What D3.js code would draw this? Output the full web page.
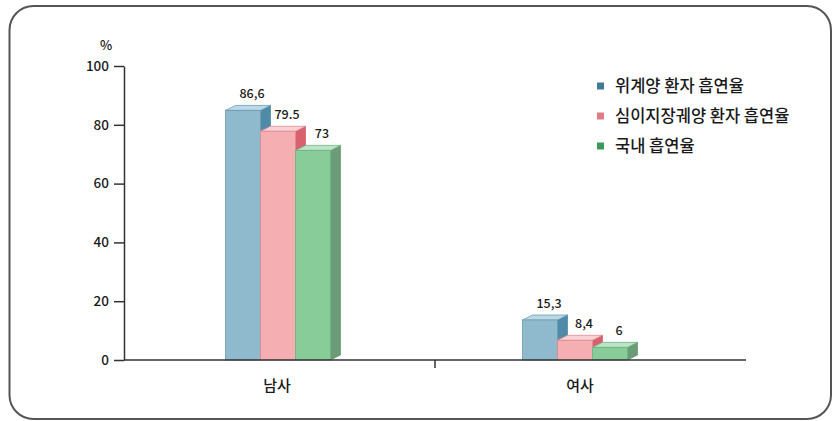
<!DOCTYPE html>
<html><head><meta charset="utf-8">
<script src="https://cdn.jsdelivr.net/npm/d3@7"></script>
<style>
html,body{margin:0;padding:0;background:#fff;}
svg{display:block;font-family:"Noto Sans CJK KR","Noto Sans",sans-serif;font-weight:500;}
</style></head>
<body><svg id="c" width="837" height="421"></svg>
<script>
const categories = ["남사", "여사"];
const seriesNames = ["위계양 환자 흡연율", "심이지장궤양 환자 흡연율", "국내 흡연율"];
const values = [
  [86.6, 15.3],
  [79.5, 8.4],
  [73, 6]
];
const valueLabels = [
  ["86,6", "15,3"],
  ["79.5", "8,4"],
  ["73", "6"]
];
const yTicks = [0, 20, 40, 60, 80, 100];

const colors = [
  {front:"#8fb9cd", top:"#bcd8e5", side:"#4f8ba6", edge:"#6a9cb4", legend:"#3f7b96"},
  {front:"#f5aeb2", top:"#f9d2d5", side:"#d8606f", edge:"#e08a92", legend:"#e07c86"},
  {front:"#88cc9a", top:"#bce4c6", side:"#6b9b77", edge:"#6fb283", legend:"#3c9a5a"}
];

const svg = d3.select("#c");

// frame
svg.append("rect").attr("x",9.5).attr("y",6).attr("width",821.5).attr("height",413)
  .attr("rx",24).attr("fill","#fff").attr("stroke","#555").attr("stroke-width",2);

const y = d3.scaleLinear().domain([0,100]).range([360,66]);
const xBand = d3.scaleBand().domain(categories).range([124,746]);
const xg = d3.scalePoint().domain(categories).range([278,575]);
const barW = 35, dx = 10, dy = 5;

// y axis
const yAxis = d3.axisLeft(y).tickValues(yTicks).tickSize(10).tickSizeOuter(0).tickPadding(5);
const ga = svg.append("g").attr("transform","translate(124,0)").call(yAxis);
ga.select(".domain").attr("stroke","#333").attr("stroke-width",1.5);
ga.selectAll(".tick line").attr("stroke","#333").attr("stroke-width",1.5);
ga.selectAll(".tick text").attr("font-size",13.5).attr("fill","#1a1a1a")
  .attr("font-family","'Noto Sans CJK KR',sans-serif").attr("font-weight",500);

svg.append("text").attr("x",106).attr("y",50).attr("text-anchor","middle")
  .attr("font-size",13).attr("fill","#1a1a1a").text("%");

// bars
categories.forEach((cat, ci) => {
  const start = xg(cat) - barW*1.5;
  seriesNames.forEach((s, si) => {
    const v = values[si][ci];
    const c = colors[si];
    const x0 = start + si*barW, x1 = x0 + barW;
    const yb = y(v), yf = y(v) + dy, y0 = y(0);
    const g = svg.append("g");
    // side
    g.append("path").attr("d", `M${x1},${yf}L${x1+dx},${yb}L${x1+dx},${y0-dy}L${x1},${y0}Z`)
      .attr("fill", c.side).attr("stroke", c.side).attr("stroke-width",0.8);
    // top
    g.append("path").attr("d", `M${x0},${yf}L${x0+dx},${yb}L${x1+dx},${yb}L${x1},${yf}Z`)
      .attr("fill", c.top).attr("stroke", c.edge).attr("stroke-width",0.8);
    // front
    g.append("rect").attr("x",x0).attr("y",yf).attr("width",barW).attr("height",y0-yf)
      .attr("fill", c.front).attr("stroke", c.edge).attr("stroke-width",0.8);
    svg.append("text").attr("x", x0 + barW/2 + 9).attr("y", yb - 7)
      .attr("text-anchor","middle").attr("font-size",12.5).attr("fill","#1a1a1a")
      .text(valueLabels[si][ci]);
  });
});

// x axis
svg.append("line").attr("x1",124).attr("x2",746).attr("y1",y(0)).attr("y2",y(0))
  .attr("stroke","#333").attr("stroke-width",1.5);
svg.append("line").attr("x1",xBand(categories[1])).attr("x2",xBand(categories[1]))
  .attr("y1",y(0)).attr("y2",y(0)+8).attr("stroke","#333").attr("stroke-width",1.5);
categories.forEach((cat, ci) => {
  svg.append("text").attr("x", xg(cat) + (ci===0 ? -1 : 5)).attr("y", 391)
    .attr("text-anchor","middle").attr("font-size",15).attr("fill","#1a1a1a").text(cat);
});

// legend
seriesNames.forEach((s, si) => {
  const cy = 86 + si*30;
  svg.append("rect").attr("x",597).attr("y",cy-3.5).attr("width",7).attr("height",7)
    .attr("fill", colors[si].legend);
  svg.append("text").attr("x",615).attr("y",cy).attr("dy","0.35em")
    .attr("font-size",16.5).attr("fill","#1a1a1a").text(s);
});
</script>
</body></html>
